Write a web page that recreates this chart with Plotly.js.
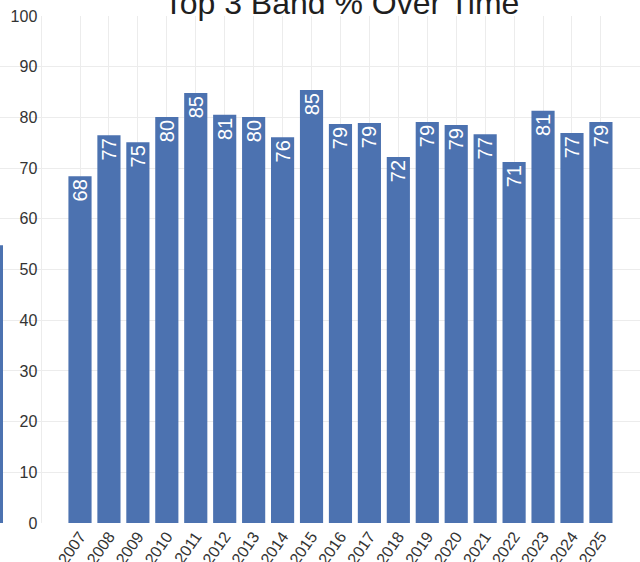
<!DOCTYPE html>
<html>
<head>
<meta charset="utf-8">
<script src="https://cdn.plot.ly/plotly-3.0.1.min.js"></script>
<style>html,body{margin:0;padding:0;background:#fff;overflow:hidden}#chart{width:640px;height:562px}</style>
</head>
<body>
<div id="chart"></div>
<script>
// Data
const years = ['2007','2008','2009','2010','2011','2012','2013','2014','2015','2016',
               '2017','2018','2019','2020','2021','2022','2023','2024','2025'];
const top3Pct = [68.4, 76.5, 75.1, 80.1, 84.8, 80.5, 80.1, 76.1, 85.4, 78.7,
                 78.9, 72.2, 79.1, 78.5, 76.7, 71.2, 81.3, 76.9, 79.1];
// Partially visible bar cut off at the left edge of the picture
const cutCategory = ['earlier'];
const cutValue = [54.8];

const barColor = '#4C72B0';
const gridColor = '#ececec';
const font = 'Liberation Sans, Arial, sans-serif';

const pxPerCat = 28.94;
const firstCenterPx = 80;
const plotW = 640;
const x0 = -firstCenterPx / pxPerCat;

const traces = [
  {
    type: 'bar', x: years, y: top3Pct,
    marker: {color: barColor},
    texttemplate: '%{y:.0f}', textposition: 'inside', textangle: -90,
    insidetextanchor: 'end', constraintext: 'none',
    textfont: {family: font, size: 20, color: '#ffffff'},
    hoverinfo: 'x+y', showlegend: false
  },
  {
    type: 'bar', x: cutCategory, y: cutValue, xaxis: 'x2', yaxis: 'y',
    marker: {color: barColor}, showlegend: false, hoverinfo: 'y'
  }
];

const u0 = 0.4 - 3 / pxPerCat;
const layout = {
  width: 640, height: 562,
  margin: {l: 0, r: 0, t: 16, b: 39, pad: 0},
  paper_bgcolor: '#ffffff', plot_bgcolor: '#ffffff',
  font: {family: font, color: '#333'},
  bargap: 0.2,
  title: {
    text: 'Top 3 Band % Over Time',
    font: {family: font, size: 32, color: '#1f1f1f'},
    x: 341.5 / 640, xanchor: 'center', xref: 'container',
    y: 1 - 3 / 562, yanchor: 'middle', yref: 'container'
  },
  xaxis: {
    type: 'category', range: [x0, x0 + plotW / pxPerCat],
    showgrid: true, gridcolor: gridColor, gridwidth: 1,
    tickangle: -55, tickfont: {family: font, size: 16, color: '#333'},
    ticks: '', showline: false, zeroline: false, automargin: false, fixedrange: true
  },
  xaxis2: {
    type: 'category', overlaying: 'x', range: [u0, u0 + plotW / pxPerCat],
    visible: false, showgrid: false, fixedrange: true
  },
  yaxis: {
    range: [0, 100], dtick: 10, tick0: 0,
    anchor: 'free', position: 40.5 / 640,
    showgrid: true, gridcolor: gridColor, gridwidth: 1,
    showline: true, linecolor: gridColor, linewidth: 1,
    zeroline: false, ticks: '',
    tickfont: {family: font, size: 16, color: '#333'},
    automargin: false, fixedrange: true
  }
};

Plotly.newPlot('chart', traces, layout, {displayModeBar: false, staticPlot: true});
</script>
</body>
</html>
